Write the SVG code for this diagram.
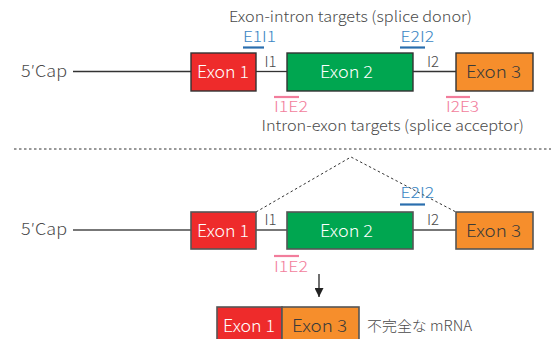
<svg xmlns="http://www.w3.org/2000/svg" width="551" height="339" viewBox="0 0 551 339">
<defs>
<style>
text{font-family:"Noto Sans CJK JP","Noto Sans",sans-serif;font-weight:300;}
.lbl{font-size:15px;fill:#4a4a4a;}
.cap{font-size:16px;fill:#4a4a4a;}
.ex{font-size:17px;}
.w{fill:#ffffff;}
.d{fill:#3a3a3a;}
.blue{font-size:15px;fill:#3a86c4;}
.pink{font-size:14.5px;fill:#f27d9c;}
.bu{stroke:#2a6eae;stroke-width:2.2;}
.pu{stroke:#f27d9c;stroke-width:2.2;}
.box1{stroke:#333;stroke-width:1.4;}
.box2{stroke:#555;stroke-width:1.6;}
.r{fill:#ee2b2b;}
.g{fill:#00a650;}
.o{fill:#f68e2c;}
</style>
<marker id="ah" viewBox="0 0 10 10" refX="10" refY="5" markerWidth="9" markerHeight="9" markerUnits="userSpaceOnUse" orient="auto">
<path d="M0,0 L10,5 L0,10 z" fill="#222"/>
</marker>
</defs>

<g id="connectors">
<line x1="73" y1="71.5" x2="191" y2="71.5" stroke="#333" stroke-width="1.3"/>
<line x1="256" y1="71.5" x2="287" y2="71.5" stroke="#333" stroke-width="1.3"/>
<line x1="413" y1="71.5" x2="456" y2="71.5" stroke="#333" stroke-width="1.3"/>
<line x1="14" y1="149" x2="551" y2="149" stroke="#333" stroke-width="1" stroke-dasharray="2.5,2.5"/>
<line x1="73" y1="230" x2="191" y2="230" stroke="#777" stroke-width="2"/>
<line x1="256" y1="230" x2="287" y2="230" stroke="#777" stroke-width="2"/>
<line x1="413" y1="230" x2="456" y2="230" stroke="#777" stroke-width="2"/>
<polyline points="256,212 351,157 456,212" fill="none" stroke="#333" stroke-width="1" stroke-dasharray="2.5,2.5"/>
<line x1="319" y1="274" x2="319" y2="297" stroke="#222" stroke-width="1.3" marker-end="url(#ah)"/>
</g>

<g id="top-row">
<text class="lbl" x="229" y="21.5" textLength="243" lengthAdjust="spacingAndGlyphs">Exon-intron targets (splice donor)</text>
<text class="cap" x="21" y="77" textLength="46" lengthAdjust="spacingAndGlyphs">5′Cap</text>
<g id="t-exon1"><rect class="r box1" x="191" y="53" width="65" height="38"/><text class="ex w" x="197" y="78" textLength="52" lengthAdjust="spacingAndGlyphs">Exon 1</text></g>
<g id="t-exon2"><rect class="g box1" x="287" y="53" width="126" height="38"/><text class="ex w" x="320" y="78" textLength="53" lengthAdjust="spacingAndGlyphs">Exon 2</text></g>
<g id="t-exon3"><rect class="o box1" x="456" y="53" width="77" height="38"/><text class="ex d" x="466" y="78" textLength="55" lengthAdjust="spacingAndGlyphs">Exon 3</text></g>
<text class="lbl" x="264.5" y="66.5">I1</text>
<text class="lbl" x="427" y="66.5">I2</text>
<g id="t-e1i1"><text class="blue" x="243" y="42" textLength="33" lengthAdjust="spacingAndGlyphs">E1I1</text><line class="bu" x1="243" y1="47.5" x2="264" y2="47.5"/></g>
<g id="t-e2i2"><text class="blue" x="400.5" y="42" textLength="33.5" lengthAdjust="spacingAndGlyphs">E2I2</text><line class="bu" x1="400" y1="47.5" x2="425" y2="47.5"/></g>
<g id="t-i1e2"><line class="pu" x1="274" y1="97" x2="299" y2="97"/><text class="pink" x="274" y="112" textLength="34" lengthAdjust="spacingAndGlyphs">I1E2</text></g>
<g id="t-i2e3"><line class="pu" x1="446" y1="97" x2="470" y2="97"/><text class="pink" x="446" y="112" textLength="33" lengthAdjust="spacingAndGlyphs">I2E3</text></g>
<text class="lbl" x="261.5" y="131" textLength="262.5" lengthAdjust="spacingAndGlyphs">Intron-exon targets (splice acceptor)</text>
</g>

<g id="bottom-row">
<text class="cap" x="21" y="235" textLength="46" lengthAdjust="spacingAndGlyphs">5′Cap</text>
<g id="b-exon1"><rect class="r box2" x="191" y="212" width="65" height="37"/><text class="ex w" x="197" y="236.5" textLength="52" lengthAdjust="spacingAndGlyphs">Exon 1</text></g>
<g id="b-exon2"><rect class="g box2" x="287" y="212" width="126" height="37"/><text class="ex w" x="320" y="236.5" textLength="53" lengthAdjust="spacingAndGlyphs">Exon 2</text></g>
<g id="b-exon3"><rect class="o box2" x="456" y="212" width="77" height="37"/><text class="ex d" x="466" y="236.5" textLength="55" lengthAdjust="spacingAndGlyphs">Exon 3</text></g>
<text class="lbl" x="264.5" y="224.5">I1</text>
<text class="lbl" x="427" y="224.5">I2</text>
<g id="b-e2i2"><text class="blue" x="400.5" y="198" textLength="33.5" lengthAdjust="spacingAndGlyphs">E2I2</text><line class="bu" x1="400" y1="204.5" x2="425" y2="204.5"/></g>
<g id="b-i1e2"><line class="pu" x1="274" y1="256" x2="299" y2="256"/><text class="pink" x="274" y="272" textLength="34" lengthAdjust="spacingAndGlyphs">I1E2</text></g>
</g>

<g id="mrna">
<g id="m-exon1"><rect class="r box2" x="217" y="307" width="65" height="40"/><text class="ex w" x="223" y="331.5" textLength="52" lengthAdjust="spacingAndGlyphs">Exon 1</text></g>
<g id="m-exon3"><rect class="o box2" x="282" y="307" width="77" height="40"/><text class="ex d" x="292" y="331.5" textLength="55" lengthAdjust="spacingAndGlyphs">Exon 3</text></g>
<text x="367" y="330.5" style="font-size:14px;fill:#4a4a4a" textLength="105" lengthAdjust="spacingAndGlyphs">不完全な mRNA</text>
</g>
</svg>
